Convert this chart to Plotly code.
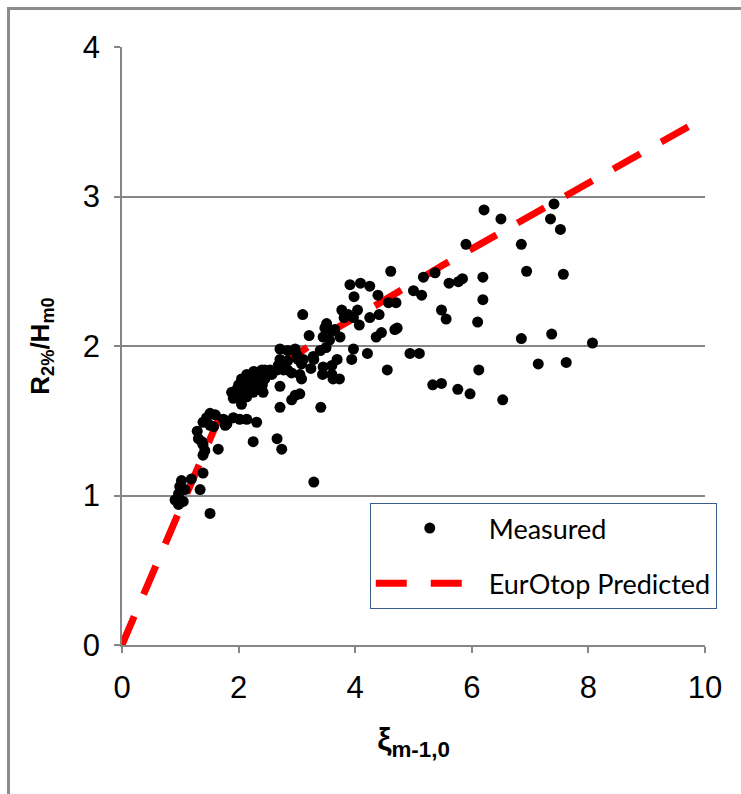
import plotly.graph_objects as go

meas_x = [0.91, 0.97, 1.05, 0.97, 0.99, 1.08, 1.02, 1.19, 1.34, 1.39, 1.51, 1.39, 1.42, 1.31, 1.37,
          1.39, 1.29, 1.65, 1.51, 1.57, 1.39, 1.45, 1.51, 1.60,
          1.77, 1.74, 1.80, 1.91, 2.02, 2.14, 2.31, 1.88, 1.91, 1.97, 2.00, 2.08, 2.14, 2.05, 2.00,
          2.05, 2.11, 2.17, 2.17, 2.22, 2.25, 2.34, 2.42, 2.34, 2.40, 2.22, 2.25, 2.31, 2.14, 2.26,
          2.45, 2.40, 2.54, 2.57, 2.45, 2.41, 2.25, 2.66, 2.74,
          2.68, 2.77, 2.66, 2.84, 2.91, 3.05, 2.71, 2.84, 2.97, 3.00, 3.02, 2.71, 2.84, 3.08, 2.71,
          2.97, 2.91, 2.71, 3.41, 3.05, 3.28, 3.29, 3.11, 3.24, 3.45, 3.60, 3.44, 3.60, 3.62, 3.73,
          3.08, 3.29,
          3.10, 3.21, 3.45, 3.56, 3.74, 3.50, 3.40, 3.51, 3.48, 3.60, 3.65, 3.77, 3.88, 4.04, 3.81,
          3.97, 4.07, 4.25, 4.41, 3.91, 4.09, 4.25, 3.98, 4.39, 3.97, 4.21, 3.94, 3.69, 4.36, 4.45,
          4.68, 4.72, 4.57, 4.70, 4.61, 4.55, 4.94, 5.10,
          5.00, 5.14, 5.17, 5.37, 5.61, 5.77, 5.84, 5.48, 5.56, 5.90, 6.19, 6.19, 6.10, 6.12, 6.21,
          6.50, 7.41, 7.35, 7.52, 6.85, 6.94, 7.57, 6.85, 7.37, 8.07, 7.14, 7.62, 6.53, 5.33, 5.48,
          5.76, 5.97]
meas_y = [0.97, 0.94, 0.96, 1.01, 1.06, 1.04, 1.10, 1.11, 1.04, 1.15, 0.88, 1.27, 1.30, 1.38, 1.36,
          1.34, 1.43, 1.31, 1.47, 1.46, 1.49, 1.52, 1.55, 1.54,
          1.47, 1.51, 1.48, 1.52, 1.51, 1.51, 1.49, 1.69, 1.65, 1.71, 1.67, 1.71, 1.66, 1.61, 1.74,
          1.78, 1.74, 1.77, 1.75, 1.73, 1.69, 1.71, 1.69, 1.76, 1.73, 1.81, 1.79, 1.82, 1.81, 1.83,
          1.84, 1.84, 1.84, 1.81, 1.78, 1.75, 1.36, 1.38, 1.31,
          1.87, 1.84, 1.84, 1.84, 1.82, 1.81, 1.98, 1.97, 1.98, 1.94, 1.91, 1.91, 1.90, 1.88, 1.73,
          1.67, 1.64, 1.59, 1.59, 1.68, 1.93, 1.91, 1.91, 1.85, 1.86, 1.87, 1.81, 1.81, 1.78, 1.78,
          1.78, 1.09,
          2.21, 2.07, 2.06, 2.04, 2.06, 1.99, 1.97, 2.15, 2.12, 2.10, 2.11, 2.24, 2.21, 2.24, 2.19,
          2.19, 2.14, 2.19, 2.21, 2.41, 2.42, 2.40, 2.33, 2.34, 1.98, 1.95, 1.91, 1.91, 2.06, 2.09,
          2.11, 2.12, 2.29, 2.29, 2.50, 1.84, 1.95, 1.95,
          2.37, 2.34, 2.46, 2.49, 2.42, 2.43, 2.45, 2.24, 2.18, 2.68, 2.46, 2.31, 2.16, 1.84, 2.91,
          2.85, 2.95, 2.85, 2.78, 2.68, 2.50, 2.48, 2.05, 2.08, 2.02, 1.88, 1.89, 1.64, 1.74, 1.75,
          1.71, 1.68]

# EurOtop predicted curve
pred_x = [0.0, 0.5, 1.0, 1.3, 1.5, 1.7, 1.95, 2.5, 3.1, 3.5, 4.0, 4.5, 5.0, 5.5, 6.0, 6.5, 7.0,
          7.6, 8.0, 8.5, 9.0, 9.5, 10.0]
pred_y = [0.0, 0.46, 0.92, 1.20, 1.37, 1.55, 1.64, 1.81, 1.97, 2.08, 2.19, 2.31, 2.42, 2.54, 2.65,
          2.76, 2.88, 3.01, 3.09, 3.20, 3.31, 3.42, 3.53]

x_ticks = [0, 2, 4, 6, 8, 10]
y_ticks = [0, 1, 2, 3, 4]

GRAY = "#868686"
FRAME = "#8C8C8C"
TICKFONT = dict(family="Liberation Sans", size=31, color="black")
TITLEFONT = "Liberation Sans"


def px_x(p):
    return (p - 122) / 583


def px_y(p):
    return (645 - p) / 598


fig = go.Figure()
fig.add_trace(go.Scatter(
    x=pred_x, y=pred_y, mode="lines", name="EurOtop Predicted",
    line=dict(color="#FF0000", width=7, dash="31px,24px"),
    legendgroup="b", legendrank=2,
))
fig.add_trace(go.Scatter(
    x=meas_x, y=meas_y, mode="markers", name="Measured",
    marker=dict(color="black", size=11, line=dict(width=0)),
    legendgroup="a", legendrank=1,
))

fig.update_layout(
    width=741, height=794, autosize=False,
    margin=dict(l=122, r=36, t=47, b=149),
    paper_bgcolor="white", plot_bgcolor="white",
    showlegend=True,
    legend=dict(
        x=0.425, y=0.2375, xanchor="left", yanchor="top",
        bordercolor="#385D8A", borderwidth=1, bgcolor="white",
        font=dict(family="Lato", size=27, color="black"),
        itemwidth=108, traceorder="grouped", tracegroupgap=17,
    ),
    xaxis=dict(
        range=[0, 10], tickvals=x_ticks, showgrid=False, zeroline=False,
        showline=True, linecolor=GRAY, linewidth=1.5,
        ticks="outside", ticklen=6, tickcolor=GRAY, tickwidth=1.5,
        tickfont=TICKFONT, ticklabelstandoff=8,
        title=dict(text="<b>ξ<sub>m-1,0</sub></b>", standoff=24,
                   font=dict(family=TITLEFONT, size=32, color="black")),
    ),
    yaxis=dict(
        range=[0, 4], tickvals=y_ticks, showgrid=True, gridcolor=GRAY, gridwidth=1.5,
        zeroline=False, showline=True, linecolor=GRAY, linewidth=1.5,
        ticks="outside", ticklen=6, tickcolor=GRAY, tickwidth=1.5,
        tickfont=TICKFONT, ticklabelstandoff=8,
        title=dict(text="<b>R<sub>2%</sub>/H<sub>m0</sub></b>", standoff=26,
                   font=dict(family=TITLEFONT, size=26, color="black")),
    ),
    shapes=[
        # top edge of outer chart frame
        dict(type="rect", xref="paper", yref="paper",
             x0=px_x(7), x1=px_x(741), y0=px_y(10), y1=px_y(7),
             fillcolor=FRAME, line=dict(width=0), layer="above"),
        # left edge of outer chart frame
        dict(type="rect", xref="paper", yref="paper",
             x0=px_x(7), x1=px_x(10), y0=px_y(794), y1=px_y(7),
             fillcolor=FRAME, line=dict(width=0), layer="above"),
    ],
)

fig.write_html("out.html", config={"displayModeBar": False})
